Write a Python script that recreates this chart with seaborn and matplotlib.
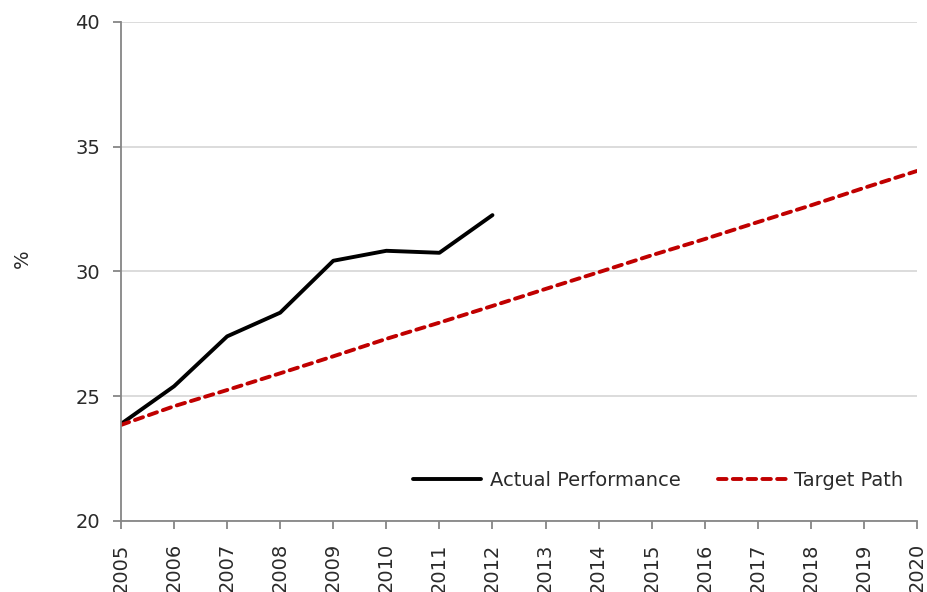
import matplotlib
matplotlib.use("Agg")
import matplotlib.pyplot as plt
import seaborn as sns
import pandas as pd

# Share of renewable energy, actual vs. target trajectory
years = list(range(2005, 2021))
actual_years = list(range(2005, 2013))
actual_values = [23.89, 25.4, 27.4, 28.35, 30.43, 30.83, 30.75, 32.26]
target_values = [23.85, 24.6, 25.25, 25.92, 26.6, 27.3, 27.95, 28.62,
                 29.3, 29.97, 30.65, 31.3, 31.98, 32.65, 33.35, 34.03]
y_ticks = [20, 25, 30, 35, 40]

actual_df = pd.DataFrame({"year": actual_years, "value": actual_values})
target_df = pd.DataFrame({"year": years, "value": target_values})

sns.set_theme(style="white")
plt.rcParams["font.family"] = ["DejaVu Sans"]

text_color = "#2a2a2a"

fig = plt.figure(figsize=(9.28, 5.92), dpi=100)
ax = fig.add_axes([121 / 928, 1 - 521 / 592, (917 - 121) / 928, (521 - 22) / 592])

sns.lineplot(data=actual_df, x="year", y="value", ax=ax, color="black",
             linewidth=2.8, label="Actual Performance", solid_capstyle="round")
sns.lineplot(data=target_df, x="year", y="value", ax=ax, color="#C00000",
             linewidth=2.8, label="Target Path", linestyle=(0, (2.2, 1.6)),
             dash_capstyle="round")

ax.set_xlim(2005, 2020)
ax.set_ylim(20, 40)
ax.set_xticks(years)
ax.set_xticklabels([str(y) for y in years], rotation=90, fontsize=14, color=text_color)
ax.set_yticks(y_ticks)
ax.set_yticklabels([str(v) for v in y_ticks], fontsize=14, color=text_color)
ax.grid(axis="y", color="#d9d9d9", linewidth=1.3)
ax.set_axisbelow(True)

for side in ["top", "right"]:
    ax.spines[side].set_visible(False)
for side in ["left", "bottom"]:
    ax.spines[side].set_color("#868686")
    ax.spines[side].set_linewidth(1.3)
ax.tick_params(axis="both", direction="out", length=6, width=1.3, color="#868686",
               bottom=True, left=True)
ax.tick_params(axis="x", pad=10)
ax.tick_params(axis="y", pad=9)

ax.set_xlabel("")
ax.set_ylabel("%", fontsize=14, color=text_color)
ax.yaxis.set_label_coords(-0.112, 0.525)

leg = ax.legend(loc="lower right", bbox_to_anchor=(1.005, 0.027), ncol=2, frameon=False,
                fontsize=14, handlelength=3.5, handletextpad=0.45, columnspacing=1.9)
for t in leg.get_texts():
    t.set_color(text_color)

fig.savefig("out.png", dpi=100)
